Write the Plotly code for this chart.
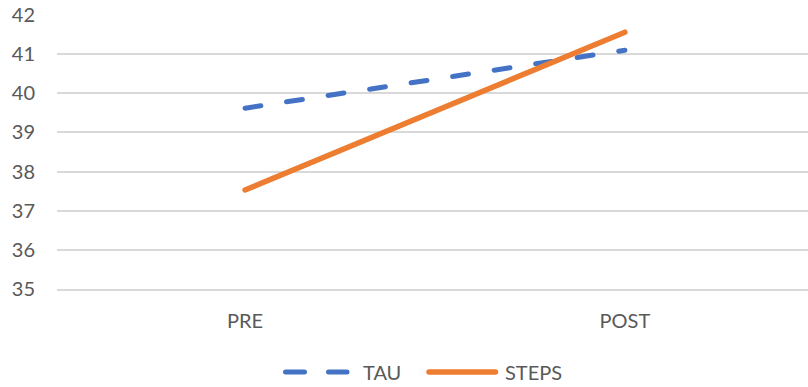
import plotly.graph_objects as go

# Mean scores at each time point
timepoints = ["PRE", "POST"]
tau_scores = [39.62, 41.1]
steps_scores = [37.53, 41.56]

y_ticks = [35, 36, 37, 38, 39, 40, 41, 42]

BLUE = "#4472C4"
ORANGE = "#ED7D31"
GRID = "#D9D9D9"
TEXT = "#595959"
FONT = "Lato"
FSIZE = 20

W, H = 808, 387
L, R, T, B = 57, 0, 15, 98

fig = go.Figure()
fig.add_trace(go.Scatter(
    x=timepoints, y=tau_scores, mode="lines", name="TAU",
    line=dict(color=BLUE, width=5, dash="16px,26px"),
))
fig.add_trace(go.Scatter(
    x=timepoints, y=steps_scores, mode="lines", name="STEPS",
    line=dict(color=ORANGE, width=5.5),
))

# Custom legend below the plot (pixel positions converted to paper units)
plot_w = W - L - R
plot_h = H - T - B


def px(xp):
    return (xp - L) / plot_w


def py(yp):
    return (H - B - yp) / plot_h


leg_y = py(372)
for x0, x1 in [(285.5, 304.5), (328.5, 347)]:
    fig.add_shape(type="line", xref="paper", yref="paper",
                  x0=px(x0), x1=px(x1), y0=leg_y, y1=leg_y,
                  line=dict(color=BLUE, width=5))
fig.add_shape(type="line", xref="paper", yref="paper",
              x0=px(429), x1=px(495.5), y0=leg_y, y1=leg_y,
              line=dict(color=ORANGE, width=5.5))
for label, xp in [("TAU", 361), ("STEPS", 503)]:
    fig.add_annotation(text=label, xref="paper", yref="paper",
                       x=px(xp), y=leg_y, xanchor="left", yanchor="middle",
                       showarrow=False, font=dict(family=FONT, size=FSIZE, color=TEXT))

fig.update_layout(
    width=W, height=H,
    margin=dict(l=L, r=R, t=T, b=B),
    paper_bgcolor="white", plot_bgcolor="white",
    showlegend=False,
    font=dict(family=FONT, size=FSIZE, color=TEXT),
)
fig.update_xaxes(
    type="category", range=[-0.495, 1.482],
    showgrid=False, zeroline=False, ticks="",
    showline=True, linecolor=GRID, linewidth=1.5,
    ticklabelstandoff=13,
    tickfont=dict(family=FONT, size=FSIZE, color=TEXT),
)
fig.update_yaxes(
    range=[35, 42], tickvals=y_ticks,
    showgrid=True, gridcolor=GRID, gridwidth=1.5,
    zeroline=False, ticks="", showline=False,
    ticklabelstandoff=21,
    tickfont=dict(family=FONT, size=FSIZE, color=TEXT),
)

round_caps = """
document.querySelectorAll('.scatterlayer path.js-line, .shapelayer path').forEach(function(p){
  p.style.strokeLinecap = 'round';
});
"""
fig.write_html("out.html", post_script=round_caps)
